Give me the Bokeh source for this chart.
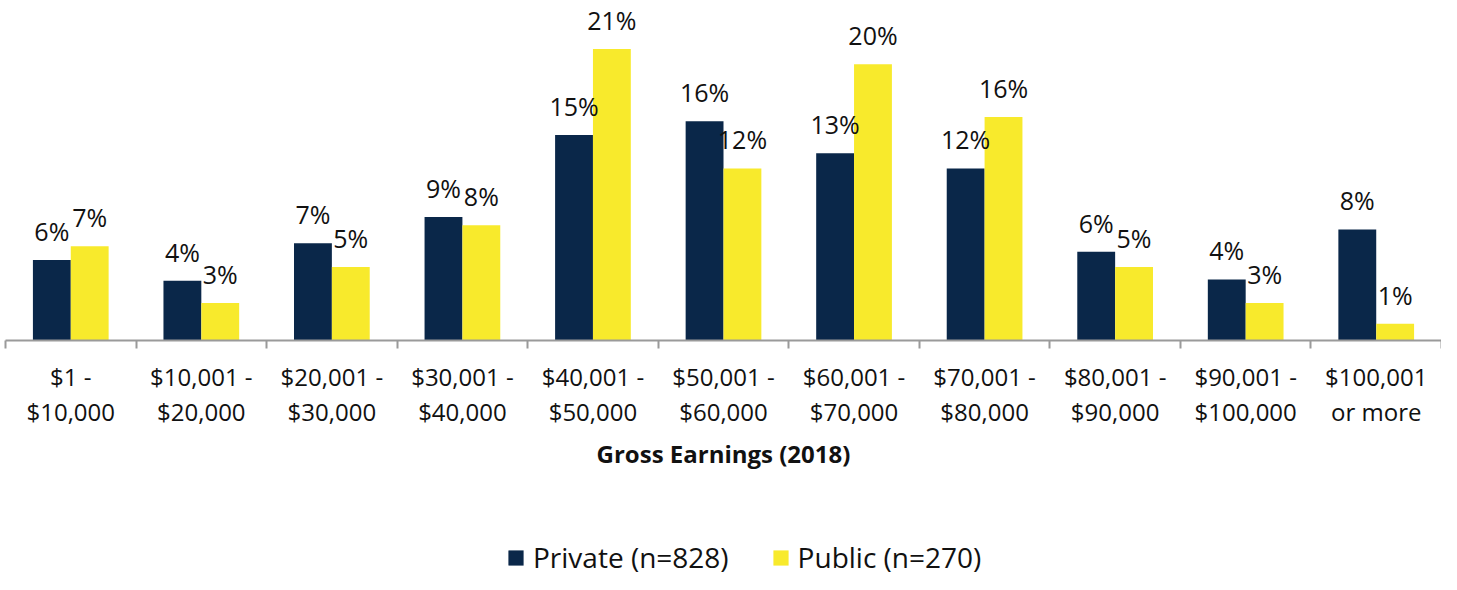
import numpy as np
from bokeh.plotting import figure
from bokeh.layouts import column
from bokeh.core.properties import value
from bokeh.models import (Range1d, LinearAxis, FixedTicker,
                          ColumnDataSource, LabelSet, Legend, LegendItem)
from bokeh.transform import dodge
from bokeh.embed import file_html
from bokeh.resources import INLINE

# ---- data ----
categories = ["$1 -\n$10,000", "$10,001 -\n$20,000", "$20,001 -\n$30,000", "$30,001 -\n$40,000",
              "$40,001 -\n$50,000", "$50,001 -\n$60,000", "$60,001 -\n$70,000", "$70,001 -\n$80,000",
              "$80,001 -\n$90,000", "$90,001 -\n$100,000", "$100,001\nor more"]
private = [5.8, 4.3, 7.0, 8.9, 14.8, 15.8, 13.5, 12.4, 6.4, 4.4, 8.0]
public = [6.8, 2.7, 5.3, 8.3, 21.0, 12.4, 19.9, 16.1, 5.3, 2.7, 1.2]
private_labels = ["6%", "4%", "7%", "9%", "15%", "16%", "13%", "12%", "6%", "4%", "8%"]
public_labels = ["7%", "3%", "5%", "8%", "21%", "12%", "20%", "16%", "5%", "3%", "1%"]
series_names = ["Private (n=828)", "Public (n=270)"]
x_title = "Gross Earnings (2018)"

NAVY = "#0a2749"
YELLOW = "#f8ea2c"
GREY = "#9a9a9a"
TXT = "#111111"
FONT = "Open Sans"

n = len(categories)
idx = list(range(n))
src = ColumnDataSource(dict(idx=idx, private=private, public=public,
                            pl=private_labels, ul=public_labels))

chart = figure(x_range=Range1d(-0.5, n - 0.5),
               y_range=Range1d(0, 24.5),
               width=1441, height=473, output_backend="svg", toolbar_location=None,
               min_border_left=5, min_border_right=0, min_border_top=0, min_border_bottom=0)
chart.xaxis.visible = False
chart.yaxis.visible = False
chart.outline_line_color = None
chart.grid.visible = False

BW = 0.29
chart.vbar(x=dodge("idx", -BW / 2), top="private", width=BW, source=src,
           fill_color=NAVY, line_color=None)
chart.vbar(x=dodge("idx", BW / 2), top="public", width=BW, source=src,
           fill_color=YELLOW, line_color=None)

for xoff, col, txt in [(-BW / 2, "private", "pl"), (BW / 2, "public", "ul")]:
    lab = LabelSet(x=dodge("idx", xoff), y=col, text=txt, source=src,
                   text_align="center", text_baseline="alphabetic", y_offset=19,
                   text_font=value(FONT), text_font_size="25px", text_color=TXT)
    chart.add_layout(lab)

# axis line with ticks at category boundaries
bounds = [float(b) for b in np.arange(n + 1) - 0.5]
tick_axis = LinearAxis(ticker=FixedTicker(ticks=bounds),
                       major_label_overrides={b: "" for b in bounds},
                       axis_line_color=GREY, axis_line_width=2,
                       major_tick_line_color=GREY, major_tick_line_width=2,
                       major_tick_out=8, major_tick_in=0, minor_tick_line_color=None,
                       major_label_text_font_size="1px", major_label_standoff=0)
chart.add_layout(tick_axis, "below")

# category labels + axis title
cat_axis = LinearAxis(ticker=FixedTicker(ticks=idx),
                      major_label_overrides={i: c for i, c in zip(idx, categories)},
                      axis_line_color=None, major_tick_line_color=None, minor_tick_line_color=None,
                      major_tick_out=0, major_tick_in=0, major_label_standoff=11,
                      major_label_text_font=FONT, major_label_text_font_size="24px",
                      major_label_text_line_height=1.08, major_label_text_color=TXT,
                      axis_label=x_title, axis_label_text_font=FONT,
                      axis_label_text_font_style="bold", axis_label_text_font_size="24px",
                      axis_label_text_color=TXT, axis_label_standoff=6)
chart.add_layout(cat_axis, "below")

# legend strip (its renderers are hidden; only their swatches are shown)
leg_fig = figure(x_range=Range1d(-0.5, n - 0.5), y_range=Range1d(0, 24.5),
                 width=1441, height=101, output_backend="svg", toolbar_location=None,
                 x_axis_location=None, y_axis_location=None,
                 min_border_left=5, min_border_right=0, min_border_top=0, min_border_bottom=0)
leg_fig.outline_line_color = None
leg_fig.grid.visible = False
lr1 = leg_fig.vbar(x=dodge("idx", -BW / 2), top="private", width=BW, source=src,
                   fill_color=NAVY, line_color=None, visible=False)
lr2 = leg_fig.vbar(x=dodge("idx", BW / 2), top="public", width=BW, source=src,
                   fill_color=YELLOW, line_color=None, visible=False)
legend = Legend(items=[LegendItem(label=series_names[0], renderers=[lr1]),
                       LegendItem(label=series_names[1], renderers=[lr2])],
                orientation="horizontal", location=(501, -2),
                label_text_font=FONT, label_text_font_size="28px", label_text_color=TXT,
                glyph_width=19, glyph_height=19, label_standoff=8, spacing=42,
                inactive_fill_alpha=0,
                border_line_color=None, background_fill_alpha=0, padding=0, margin=0)
leg_fig.add_layout(legend)

p = column(chart, leg_fig, spacing=0)
open("out.html", "w").write(file_html(p, INLINE))
